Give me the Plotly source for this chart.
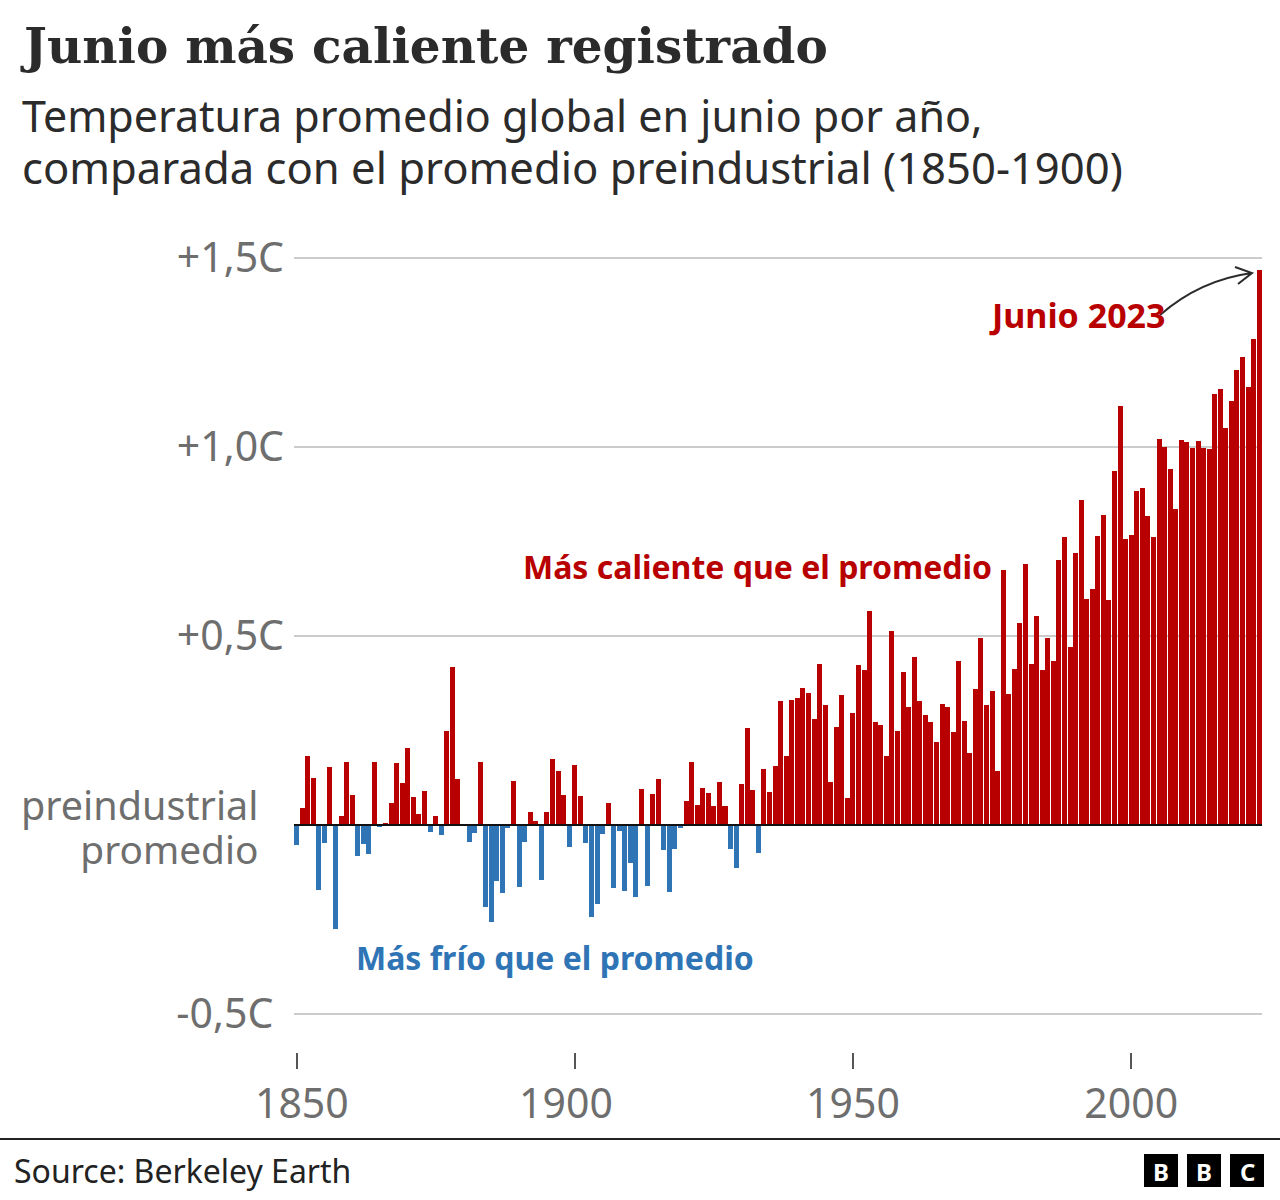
import plotly.graph_objects as go

start_year = 1850
anomalies = [
 -0.053,0.044,0.183,0.124,-0.172,-0.047,0.153,-0.274,0.023,0.168,
 0.080,-0.082,-0.049,-0.076,0.166,-0.004,0.004,0.057,0.163,0.112,
 0.205,0.075,0.030,0.090,-0.019,0.023,-0.026,0.250,0.417,0.123,
 0.001,-0.045,-0.021,0.168,-0.216,-0.256,-0.148,-0.180,-0.009,0.116,
 -0.164,-0.046,0.034,0.010,-0.146,0.034,0.174,0.144,0.080,-0.059,
 0.158,0.078,-0.047,-0.243,-0.209,-0.025,0.058,-0.167,-0.016,-0.175,
 -0.101,-0.191,0.094,-0.162,0.083,0.123,-0.065,-0.177,-0.063,-0.008,
 0.064,0.168,0.054,0.097,0.084,0.049,0.113,0.049,-0.064,-0.114,
 0.108,0.257,0.093,-0.074,0.147,0.087,0.155,0.327,0.182,0.330,
 0.335,0.363,0.348,0.281,0.425,0.318,0.115,0.258,0.345,0.071,
 0.295,0.422,0.409,0.566,0.272,0.264,0.183,0.512,0.250,0.404,
 0.311,0.444,0.328,0.292,0.273,0.219,0.320,0.312,0.245,0.433,
 0.276,0.190,0.361,0.496,0.317,0.354,0.142,0.674,0.347,0.414,
 0.534,0.690,0.427,0.552,0.410,0.496,0.433,0.702,0.762,0.471,
 0.720,0.860,0.599,0.624,0.765,0.821,0.594,0.936,1.109,0.757,
 0.768,0.883,0.891,0.817,0.762,1.020,0.999,0.941,0.837,1.018,
 1.013,0.998,1.015,0.998,0.995,1.141,1.153,1.049,1.121,1.203,
 1.238,1.158,1.285,1.469,
]
years = [start_year + i for i in range(len(anomalies))]
y_tick_vals = [-0.5, 0.5, 1.0, 1.5]
y_tick_text = ["-0,5C\u00a0", "+0,5C", "+1,0C", "+1,5C"]
x_tick_vals = [1850, 1900, 1950, 2000]
x_tick_text = ["\u00a01850", "1900\u00a0\u2009", "1950", "2000"]

RED = "#b80000"
BLUE = "#2f75b6"
INK = "#222222"
GREY = "#6e6e6e"
SANS = "Noto Sans"
SERIF = "DejaVu Serif"

W, H = 1280, 1200
L, R, T, B = 294, 1262, 225, 1052

def px(x):
    return (x - L) / (R - L)

def py(y):
    return (B - y) / (B - T)

fig = go.Figure(go.Bar(
    x=years, y=anomalies, width=0.9,
    marker=dict(color=[RED if v >= 0 else BLUE for v in anomalies], line_width=0),
    hoverinfo="skip",
))

def text(s, x, y, size, color, anchor="left", font=SANS, bold=False):
    if bold:
        s = f"<b>{s}</b>"
    fig.add_annotation(text=s, x=px(x), y=py(y), xref="paper", yref="paper",
                       xanchor=anchor, yanchor="middle", showarrow=False, align=anchor,
                       font=dict(family=font, size=size, color=color))

def sized(s, size):
    return f'<span style="font-size:{size}px">{s}</span>'

text(sized("Temperatura promedio global en junio por año,", 43) + "<br>"
     + sized("comparada con el promedio preindustrial (1850-1900)", 43.6),
     20, 141, 40, "#2b2b2b")
text(sized("preindustrial", 39.5) + "<br>" + sized("promedio", 38.8), 260, 826, 34, GREY, "right")
text("Más caliente que el promedio", 994, 566, 32, RED, "right", bold=True)
text("Más frío que el promedio", 756, 957, 32, BLUE, "right", bold=True)
text("Junio 2023", 1168, 315, 34, RED, "right", bold=True)
text("Source: Berkeley Earth", 12, 1170, 32, INK)

shapes = [
    dict(type="line", xref="paper", yref="y", x0=0, x1=1, y0=0, y1=0,
         line=dict(color="#111111", width=2), layer="above"),
    dict(type="line", xref="paper", yref="paper", x0=px(0), x1=px(W), y0=py(1139), y1=py(1139),
         line=dict(color="#222222", width=2)),
    dict(type="path", xref="paper", yref="paper",
         path=f"M {px(1160)} {py(315)} Q {px(1200)} {py(280)} {px(1252)} {py(273)} "
              f"M {px(1235)} {py(267)} L {px(1252)} {py(273)} L {px(1238)} {py(284)}",
         line=dict(color="#2b2b2b", width=2)),
]
for left, letter in [(1144, "B"), (1187, "B"), (1230, "C")]:
    shapes.append(dict(type="rect", xref="paper", yref="paper",
                       x0=px(left), x1=px(left + 34), y0=py(1154), y1=py(1187),
                       fillcolor="#000000", line_width=0))
    text(letter, left + 17, 1171, 24, "#ffffff", "center", bold=True)

fig.update_layout(
    width=W, height=H, autosize=False,
    margin=dict(l=L, r=W - R, t=T, b=H - B, pad=0),
    paper_bgcolor="white", plot_bgcolor="white", showlegend=False, bargap=0,
    title=dict(text="<b>Junio más caliente registrado</b>", x=24 / W, xanchor="left",
               xref="container", y=1 - 46 / H, yanchor="middle", yref="container",
               font=dict(family=SERIF, size=48.5, color="#2b2b2b")),
    shapes=shapes,
    xaxis=dict(range=[start_year - 0.45, start_year + 173.5], tickvals=x_tick_vals,
               ticktext=x_tick_text,
               tickmode="array", ticks="outside", ticklen=16, tickwidth=2, tickcolor="#555555",
               showgrid=False, zeroline=False, showline=False,
               tickfont=dict(family=SANS, size=41, color=GREY), ticklabelstandoff=0),
    yaxis=dict(range=[(825 - B) / 378, (825 - T) / 378], tickmode="array",
               tickvals=y_tick_vals, ticktext=y_tick_text,
               showgrid=True, gridcolor="#cccccc", gridwidth=2, zeroline=False, showline=False,
               ticks="", tickfont=dict(family=SANS, size=41, color=GREY), ticklabelstandoff=9),
)

fig.write_html("out.html", config=dict(displayModeBar=False),
               post_script="document.body.style.margin='0';")
